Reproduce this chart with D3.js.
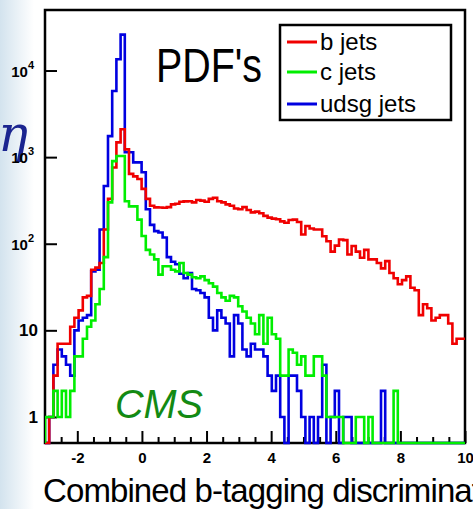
<!DOCTYPE html>
<html>
<head>
<meta charset="utf-8">
<script src="https://cdn.jsdelivr.net/npm/d3@7"></script>
<style>
  body { margin: 0; background: #fff; }
  svg { display: block; }
  text { font-family: "Liberation Sans", Arial, sans-serif; }
</style>
</head>
<body>
<svg id="chart" width="473" height="509"></svg>
<script>
// Histogram binning: 100 bins of width 0.13 starting at -3
const binLow = -3;
const binWidth = 0.13;

// Entries per bin for each jet flavour
const bJets = [
  0, 1, 3, 7, 7, 7, 11, 14, 17, 24,
  25, 50, 53, 60, 146, 330, 760, 1480, 2100, 1230,
  640, 600, 560, 430, 330, 275, 263, 262, 260, 265,
  285, 290, 305, 308, 310, 300, 320, 315, 305, 330,
  340, 310, 300, 285, 275, 255, 250, 265, 245, 230,
  235, 225, 210, 200, 195, 192, 181, 175, 188, 190,
  178, 128, 160, 150, 146, 146, 122, 107, 81, 95,
  112, 110, 75, 94, 81, 69, 85, 66, 66, 60,
  52, 63, 46, 40, 34, 38, 42, 31, 29, 15,
  20, 18, 13, 14, 15, 15, 12, 7, 8, 8
];
const cJets = [
  1, 1, 2, 1, 2, 1, 2, 5, 5, 8,
  11, 13, 20, 30, 70, 300, 900, 1030, 1030, 310,
  270, 270, 190, 123, 85, 75, 66, 44, 55, 55,
  50, 48, 60, 46, 44, 41, 40, 42, 38, 35,
  32, 27, 24, 22, 25, 24, 19, 16.5, 14, 12,
  9, 15, 7, 14, 9, 8, 3, 3, 6, 5.5,
  4, 5, 3, 3, 5, 5, 3, 1, 1, 1,
  1, 0, 0, 0, 1, 1, 0, 1, 0, 0,
  0, 0, 0, 2, 0, 0, 0, 0, 0, 0,
  0, 0, 0, 0, 0, 0, 0, 0, 0, 0
];
const udsgJets = [
  0, 1, 4, 6, 5, 4, 3, 10, 13, 14,
  15, 48, 50, 146, 465, 1750, 5800, 13500, 26000, 1140,
  1140, 870, 870, 670, 250, 165, 140, 135, 118, 70,
  62, 58, 45, 40, 46, 30, 29, 27, 24, 14,
  10, 17, 14, 12, 5, 15, 12, 6, 5, 7,
  6, 6, 5, 3, 2, 3, 1, 0, 3, 3,
  2, 1, 0, 1, 0, 1, 4, 0, 1, 2,
  0, 1, 1, 0, 0, 0, 0, 0, 0, 0,
  2, 0, 0, 0, 0, 0, 0, 0, 0, 0,
  0, 0, 0, 0, 0, 0, 0, 0, 0, 0
];

const seriesNames = ["b jets", "c jets", "udsg jets"];
const seriesColors = ["#f00000", "#00ee00", "#0000e0"];

const xMajorTicks = [-2, 0, 2, 4, 6, 8, 10];
const xMinorTicks = d3.range(-2.5, 10, 0.5).filter(v => !xMajorTicks.includes(v));
const yMajorTicks = [1, 10, 100, 1000, 10000];
const yTickBase = ["1", "10", "10", "10", "10"];
const yTickExp = ["", "", "2", "3", "4"];

const svg = d3.select("#chart");
const W = 473, H = 509;

const x = d3.scaleLinear().domain([-3, 10]).range([45, 465]);
const y = d3.scaleLog().domain([0.5, 5e4]).range([443, 10]);

// page background with the pale slide strip on the left
const defs = svg.append("defs");
const grad = defs.append("linearGradient").attr("id", "slideBg")
  .attr("x1", "0").attr("x2", "1").attr("y1", "0").attr("y2", "0");
grad.append("stop").attr("offset", "0").attr("stop-color", "#d3e3ee");
grad.append("stop").attr("offset", "1").attr("stop-color", "#ffffff");
svg.append("rect").attr("width", W).attr("height", H).attr("fill", "#fff");
svg.append("rect").attr("x", 0).attr("y", 0).attr("width", 34).attr("height", H)
  .attr("fill", "url(#slideBg)");

// fragment of the slide title peeking in from the left
svg.append("text")
  .attr("x", 28).attr("y", 151)
  .attr("text-anchor", "end")
  .style("font-family", "'DejaVu Serif', serif")
  .style("font-style", "italic")
  .attr("font-size", 50)
  .attr("fill", "#1b2590")
  .text("η");

// plot area
svg.append("rect")
  .attr("x", x.range()[0]).attr("y", y.range()[1])
  .attr("width", x.range()[1] - x.range()[0])
  .attr("height", y.range()[0] - y.range()[1])
  .attr("fill", "#fff");

// x axis ticks (inward)
const xAxisG = svg.append("g").attr("transform", `translate(0,${y.range()[0]})`);
xAxisG.call(d3.axisBottom(x).tickValues(xMinorTicks).tickSize(-6).tickFormat(""));
xAxisG.call(g => g.select(".domain").remove());
const xMajG = svg.append("g").attr("transform", `translate(0,${y.range()[0]})`);
xMajG.call(d3.axisBottom(x).tickValues(xMajorTicks).tickSize(-12).tickPadding(9)
  .tickFormat(d3.format("d")));
xMajG.select(".domain").remove();
xMajG.selectAll("text")
  .style("font-family", "'Liberation Sans', Arial, sans-serif")
  .style("font-weight", "bold")
  .attr("font-size", 15)
  .attr("fill", "#000")
  .text(d => d < 0 ? "-" + Math.abs(d) : d);
[xAxisG, xMajG].forEach(g => g.selectAll("line").attr("stroke", "#000").attr("stroke-width", 2));

// y axis ticks (inward), minor ticks at 2..9 of each decade
const yMinorTicks = [];
for (let e = -1; e <= 4; e++) {
  for (let m = 2; m <= 9; m++) {
    const v = m * Math.pow(10, e);
    if (v >= 0.5 && v <= 5e4) yMinorTicks.push(v);
  }
}
const yAxisG = svg.append("g").attr("transform", `translate(${x.range()[0]},0)`);
yAxisG.call(d3.axisLeft(y).tickValues(yMinorTicks).tickSize(-6).tickFormat(""));
yAxisG.call(d3.axisLeft(y).tickValues(yMajorTicks).tickSize(-12).tickFormat(""));
yAxisG.selectAll(".domain").remove();
yAxisG.selectAll("line").attr("stroke", "#000").attr("stroke-width", 2);

// y tick labels: 1, 10, 10^2, 10^3, 10^4
yMajorTicks.forEach((v, i) => {
  const hasExp = yTickExp[i] !== "";
  const t = svg.append("text")
    .attr("x", hasExp ? 34 : 38)
    .attr("y", y(v) + 6)
    .attr("text-anchor", "end")
    .style("font-weight", "bold")
    .attr("font-size", hasExp ? 15 : 17)
    .attr("fill", "#000");
  t.append("tspan").text(yTickBase[i]);
  if (hasExp) {
    t.append("tspan").attr("dy", -8).attr("font-size", 11).text(yTickExp[i]);
  }
});

// histograms, drawn as step outlines
defs.append("clipPath").attr("id", "plotClip")
  .append("rect")
  .attr("x", x.range()[0]).attr("y", y.range()[1])
  .attr("width", x.range()[1] - x.range()[0])
  .attr("height", y.range()[0] - y.range()[1] + 3);

const yBottom = y.range()[0];
const yOf = v => (v > 0 ? y(Math.max(v, y.domain()[0])) : yBottom);
const step = d3.line().x(d => x(d[0])).y(d => d[1]).curve(d3.curveStepAfter);

function outline(vals) {
  const pts = [[binLow, yBottom]];
  vals.forEach((v, i) => pts.push([binLow + i * binWidth, yOf(v)]));
  pts.push([binLow + vals.length * binWidth, yOf(vals[vals.length - 1])]);
  return step(pts);
}

const histG = svg.append("g").attr("clip-path", "url(#plotClip)");
const drawOrder = [
  { vals: udsgJets, color: seriesColors[2] },
  { vals: bJets, color: seriesColors[0] },
  { vals: cJets, color: seriesColors[1] }
];
drawOrder.forEach(s => {
  histG.append("path")
    .attr("d", outline(s.vals))
    .attr("fill", "none")
    .attr("stroke", s.color)
    .attr("stroke-width", 2.6)
    .attr("stroke-linejoin", "miter");
});

// frame
svg.append("rect")
  .attr("x", x.range()[0]).attr("y", y.range()[1])
  .attr("width", x.range()[1] - x.range()[0])
  .attr("height", y.range()[0] - y.range()[1])
  .attr("fill", "none")
  .attr("stroke", "#000")
  .attr("stroke-width", 2.5);

// bottom zero-level of c jets sits on top of the axis line
histG.raise();

// labels inside the frame
svg.append("text")
  .attr("x", 156).attr("y", 82)
  .attr("font-size", 48)
  .attr("textLength", 106)
  .attr("lengthAdjust", "spacingAndGlyphs")
  .attr("fill", "#000")
  .text("PDF's");

svg.append("text")
  .attr("x", 115).attr("y", 418)
  .attr("font-size", 40)
  .style("font-style", "italic")
  .attr("textLength", 88)
  .attr("lengthAdjust", "spacingAndGlyphs")
  .attr("fill", "#138a13")
  .text("CMS");

// legend
const leg = svg.append("g");
leg.append("rect")
  .attr("x", 280).attr("y", 25).attr("width", 171).attr("height", 95)
  .attr("fill", "#fff").attr("stroke", "#000").attr("stroke-width", 2.5);
const legRows = [42, 72, 104];
seriesNames.forEach((name, i) => {
  leg.append("line")
    .attr("x1", 287).attr("x2", 317)
    .attr("y1", legRows[i]).attr("y2", legRows[i])
    .attr("stroke", seriesColors[i]).attr("stroke-width", 3);
  leg.append("text")
    .attr("x", 320).attr("y", legRows[i] + 8)
    .attr("font-size", 24)
    .attr("fill", "#000")
    .text(name);
});

// x axis title
svg.append("text")
  .attr("x", 43).attr("y", 502)
  .attr("font-size", 33)
  .attr("letter-spacing", -0.9)
  .attr("fill", "#000")
  .text("Combined b-tagging discriminator");
</script>
</body>
</html>
